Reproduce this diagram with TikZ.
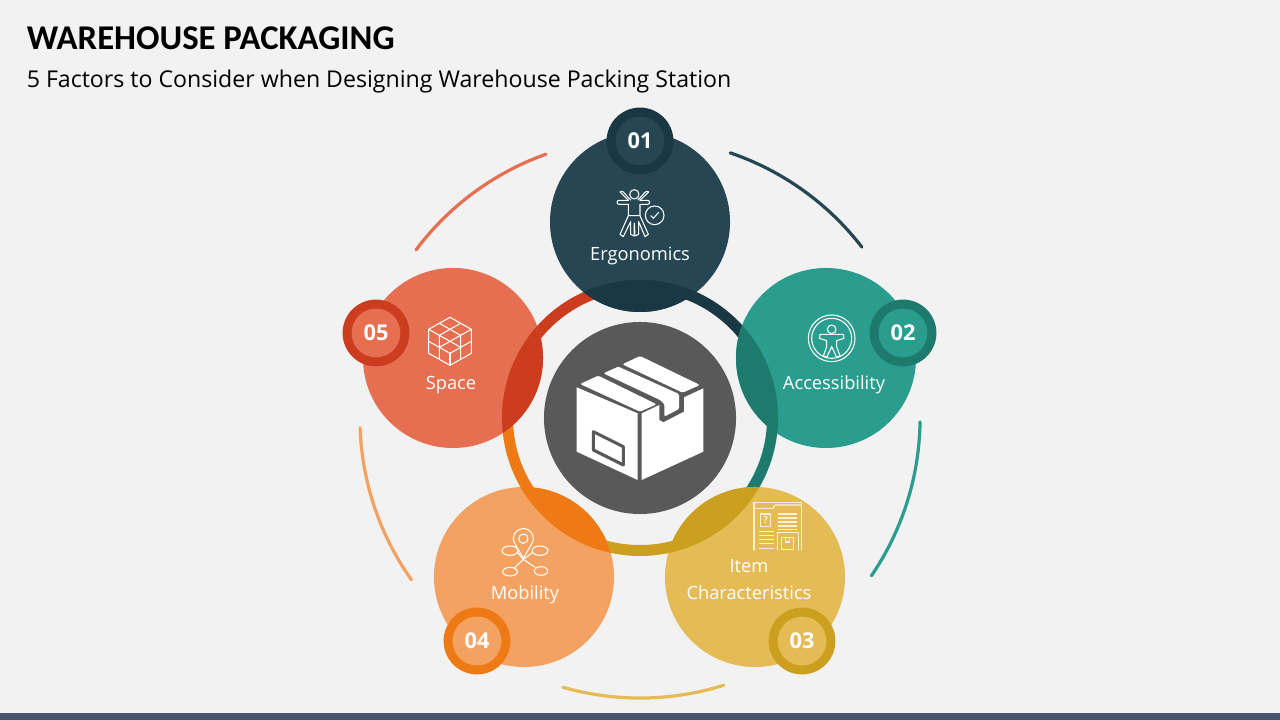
\documentclass[tikz,border=0pt]{standalone}
\usepackage{fontspec}
\setmainfont{Open Sans}
\newfontfamily\titlefont{Carlito}
\definecolor{pagegrey}{HTML}{F2F2F2}
\definecolor{barblue}{HTML}{44546A}
\definecolor{hubgrey}{HTML}{595959}
\definecolor{navy}{HTML}{264653}
\definecolor{navydark}{HTML}{1A3744}
\definecolor{teal}{HTML}{2A9D8F}
\definecolor{tealdark}{HTML}{1F7A6E}
\definecolor{gold}{HTML}{E4BB55}
\definecolor{golddark}{HTML}{CBA01F}
\definecolor{peach}{HTML}{F4A261}
\definecolor{peachdark}{HTML}{EE7A15}
\definecolor{coral}{HTML}{E76F51}
\definecolor{coraldark}{HTML}{CB3D1E}
\definecolor{cream}{HTML}{FBF1D6}
\tikzset{
  bigdisc/.style={circle,minimum size=4.5cm,inner sep=0pt,fill=#1},
  badgeout/.style={circle,minimum size=1.67cm,inner sep=0pt,fill=#1},
  badgein/.style={circle,minimum size=1.22cm,inner sep=0pt,fill=#1,text=white,font=\fontsize{15.5}{18}\selectfont\bfseries},
  ringseg/.style={line width=0.275cm,draw=#1},
  outerarc/.style={line width=0.08cm,line cap=round,draw=#1},
  factorlabel/.style={text=white,font=\fontsize{13}{15}\selectfont,inner sep=0pt},
  iconline/.style={draw=white,line width=0.75pt,line join=round,line cap=round},
  zoomed/.style={x=0.008333cm,y=-0.008333cm},
}
\begin{document}
\begin{tikzpicture}[x=0.025cm,y=0.025cm]
\useasboundingbox (0,0) rectangle (1280,720);
\fill[pagegrey] (0,0) rectangle (1280,720);
\fill[barblue] (0,0) rectangle (1280,7);
\node[anchor=west,inner sep=0pt,font=\titlefont\fontsize{24.7}{28}\selectfont\bfseries] (title) at (26.5,682) {WAREHOUSE PACKAGING};
\node[anchor=west,inner sep=0pt,font=\fontsize{16.45}{20}\selectfont] (subtitle) at (26.5,638) {5 Factors to Consider when Designing Warehouse Packing Station};

% outer arcs
\coordinate (hub) at (640,302);
\draw[outerarc=navy] (hub) ++(71.2:7cm) arc[start angle=71.2,end angle=37.6,radius=7cm];
\draw[outerarc=teal] (hub) ++(-0.8:7cm) arc[start angle=-0.8,end angle=-34.3,radius=7cm];
\draw[outerarc=gold] (hub) ++(-72.6:7cm) arc[start angle=-72.6,end angle=-106,radius=7cm];
\draw[outerarc=peach] (hub) ++(215.3:7cm) arc[start angle=215.3,end angle=182,radius=7cm];
\draw[outerarc=coral] (hub) ++(143.1:7cm) arc[start angle=143.1,end angle=109.6,radius=7cm];

% ring
\draw[ringseg=navydark] (hub) ++(90:3.3125cm) arc[start angle=90,end angle=18,radius=3.3125cm];
\draw[ringseg=tealdark] (hub) ++(18:3.3125cm) arc[start angle=18,end angle=-54,radius=3.3125cm];
\draw[ringseg=golddark] (hub) ++(-54:3.3125cm) arc[start angle=-54,end angle=-126,radius=3.3125cm];
\draw[ringseg=peachdark] (hub) ++(-126:3.3125cm) arc[start angle=-126,end angle=-198,radius=3.3125cm];
\draw[ringseg=coraldark] (hub) ++(162:3.3125cm) arc[start angle=162,end angle=90,radius=3.3125cm];

% big discs
\node[bigdisc=navy] (ergodisc) at (640,498) {};
\node[bigdisc=teal] (accessdisc) at (826,362) {};
\node[bigdisc=gold] (itemdisc) at (755,143) {};
\node[bigdisc=peach] (mobdisc) at (524,143) {};
\node[bigdisc=coral] (spacedisc) at (453,362) {};

% overlaps with the ring
\begin{scope}
\clip (hub) circle (3.45cm);
\node[bigdisc=navydark] (ergolens) at (ergodisc) {};
\node[bigdisc=tealdark] (accesslens) at (accessdisc) {};
\node[bigdisc=golddark] (itemlens) at (itemdisc) {};
\node[bigdisc=peachdark] (moblens) at (mobdisc) {};
\node[bigdisc=coraldark] (spacelens) at (spacedisc) {};
\end{scope}

% badges
\node[badgeout=navydark] (ergoout) at (640,579) {};
\node[badgein=navy] (ergonum) at (ergoout) {01};
\node[badgeout=tealdark] (accessout) at (903,387) {};
\node[badgein=teal] (accessnum) at (accessout) {02};
\node[badgeout=golddark] (itemout) at (802,79) {};
\node[badgein=gold] (itemnum) at (itemout) {03};
\node[badgeout=peachdark] (mobout) at (477,79) {};
\node[badgein=peach] (mobnum) at (mobout) {04};
\node[badgeout=coraldark] (spaceout) at (376,387) {};
\node[badgein=coral] (spacenum) at (spaceout) {05};

% labels
\node[factorlabel] (ergolabel) at (640,464) {Ergonomics};
\node[factorlabel] (accesslabel) at (834,335) {Accessibility};
\node[factorlabel] (itemlabel) at (749,154) {Item};
\node[factorlabel] (itemlabeltwo) at (749,127) {Characteristics};
\node[factorlabel] (moblabel) at (525,125.5) {Mobility};
\node[factorlabel] (spacelabel) at (451,335) {Space};

% hub with box
\node[circle,minimum size=4.8cm,inner sep=0pt,fill=hubgrey] (hubdisc) at (hub) {};
\begin{scope}[shift={(530,410)},zoomed]
\fill[white] (140,232) -- (140,425) -- (323,510) -- (323,310) -- cycle;
\fill[white] (335,310) -- (335,510) -- (520,425) -- (520,235) -- (462,262) -- (462,305) -- (400,337) -- (388,330) -- (388,285) -- cycle;
\fill[white,rounded corners=1pt] (150,222) -- (205,197) -- (380,283) -- (330,305) -- cycle;
\fill[white,rounded corners=1pt] (220,190) -- (265,170) -- (447,252) -- (447,297) -- (403,320) -- (403,282) -- (390,270) -- cycle;
\fill[white,rounded corners=1pt] (277,163) -- (330,138) -- (510,225) -- (458,248) -- cycle;
\draw[hubgrey,line width=2.2pt,line join=round] (190,365) -- (280,410) -- (280,465) -- (190,420) -- cycle;
\end{scope}

% ergonomics icon
\begin{scope}[shift={(540,620)},zoomed]
\draw[iconline] (283,283) circle (14);
\draw[iconline] (265,301) -- (237,301) arc[start angle=-90,end angle=-270,radius=6] -- (265,313) -- (265,347) -- (300,347) -- (300,313) -- (323,313) arc[start angle=90,end angle=-90,radius=6] -- (300,301);
\draw[iconline] (265,301) -- (240,276) arc[start angle=225,end angle=315,radius=7] -- (272,300);
\draw[iconline] (300,301) -- (326,276) arc[start angle=-45,end angle=-135,radius=7] -- (294,300);
\draw[iconline] (265,347) -- (240,403) -- (250,410) -- (272,365) -- (272,403) -- (282,408) -- (283,370);
\draw[iconline] (300,347) -- (325,403) -- (315,410) -- (296,365) -- (296,403) -- (285,408) -- (283,370);
\draw[iconline] (344,346) circle (28);
\draw[iconline] (332,347) -- (340,355) -- (356,337);
\end{scope}

% accessibility icon
\begin{scope}[shift={(790,420)},zoomed]
\draw[iconline] (125,115) circle (70);
\draw[iconline] (125,115) circle (60);
\draw[iconline] (125,88) circle (13);
\draw[iconline] (90,103) -- (160,103) -- (162,115) -- (140,122) -- (140,140) -- (150,168) -- (140,172) -- (125,140) -- (110,172) -- (100,168) -- (110,140) -- (110,122) -- (88,115) -- cycle;
\end{scope}

% item icon
\begin{scope}[shift={(730,230)},zoomed,iconline/.append style={draw=cream}]
\draw[iconline] (72,180) -- (72,38) -- (215,38) -- (215,180);
\draw[iconline] (72,55) -- (130,55) -- (135,45) -- (215,45);
\draw[iconline] (92,72) rectangle (122,110);
\node[text=cream,inner sep=0pt,font=\fontsize{7}{8}\selectfont\bfseries] (itemquery) at (107,91) {?};
\foreach \ypos in {72,84,96,108,118}
  \draw[iconline] (145,\ypos) -- (200,\ypos);
\foreach \ypos in {125,137,149,161,175}
  \draw[iconline] (88,\ypos) -- (130,\ypos);
\draw[iconline] (142,180) -- (142,128) -- (205,128) -- (205,180);
\draw[iconline] (155,142) rectangle (190,178);
\draw[iconline] (166,142) -- (166,156) -- (179,156) -- (179,142);
\end{scope}

% mobility icon
\begin{scope}[shift={(480,210)},zoomed]
\draw[iconline] (130,145) -- (107,105) arc[start angle=140,end angle=400,radius=30] -- cycle;
\draw[iconline] (130,86) circle (14);
\draw[iconline] (90,122) ellipse (24 and 14);
\draw[iconline] (180,122) ellipse (24 and 14);
\draw[iconline] (90,185) ellipse (22 and 13);
\draw[iconline] (183,183) ellipse (20 and 13);
\draw[iconline] (113,128) -- (130,148) -- (157,128);
\draw[iconline] (104,173) -- (130,148) -- (165,172);
\end{scope}

% space icon
\begin{scope}[shift={(410,420)},zoomed]
\draw[iconline] (120,52) -- (184,88) -- (184,160) -- (120,196) -- (56,160) -- (56,88) -- cycle;
\draw[iconline] (56,88) -- (120,124) -- (184,88);
\draw[iconline] (152,70) -- (88,106) -- (88,178);
\draw[iconline] (88,70) -- (152,106) -- (152,178);
\draw[iconline] (56,124) -- (88,142) -- (120,124) -- (152,142) -- (184,124);
\draw[iconline] (88,142) -- (120,160) -- (152,142);
\draw[iconline] (120,160) -- (120,196);
\end{scope}
\end{tikzpicture}
\end{document}
